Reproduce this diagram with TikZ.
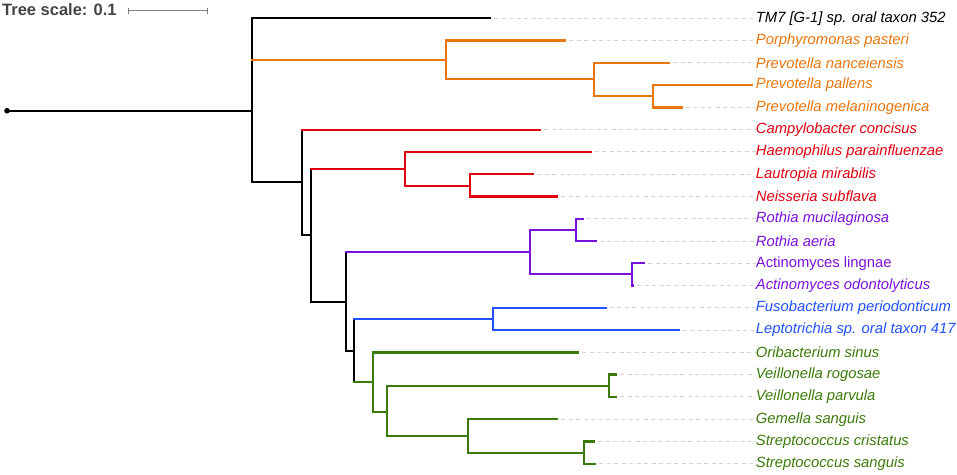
\documentclass[tikz,border=0pt]{standalone}
\usepackage{fontspec}
\setmainfont{Liberation Sans}
\definecolor{cladeorange}{HTML}{E8760C}
\definecolor{cladered}{HTML}{E00010}
\definecolor{cladepurple}{HTML}{7A10DC}
\definecolor{cladeblue}{HTML}{2050FF}
\definecolor{cladegreen}{HTML}{3A7A08}
\definecolor{scalegray}{HTML}{444444}
\tikzset{
	leaf/.style={anchor=west,inner sep=0pt,font=\fontsize{14.8}{16}\selectfont\itshape},
	guide/.style={draw=black!17,line width=1pt,dash pattern=on 4pt off 3.5pt},
	branch/.style={line width=2.3pt,line cap=rect}
}
\begin{document}
\begin{tikzpicture}[x=1pt,y=-1pt]
	\useasboundingbox (0,0) rectangle (957,474);
	% scale
	\node[anchor=west,inner sep=0pt,text=scalegray,font=\fontsize{16.5}{18}\selectfont\bfseries] (scale) at (2,10) {Tree scale: 0.1};
	\coordinate (sa) at (128,10.7);
	\coordinate (sb) at (207,10.7);
	\draw[gray,line width=1pt] (sa) -- (sb);
	\draw[gray,line width=1pt] ([yshift=-3pt]sa) -- ([yshift=3pt]sa);
	\draw[gray,line width=1pt] ([yshift=-3pt]sb) -- ([yshift=3pt]sb);
	% labels
	\node[leaf] (tm7) at (755.7,18.3) {TM7 [G-1] sp. oral taxon 352};
	\node[leaf,text=cladeorange] (porph) at (755.7,40.6) {Porphyromonas pasteri};
	\node[leaf,text=cladeorange] (nance) at (755.7,62.8) {Prevotella nanceiensis};
	\node[leaf,text=cladeorange] (pall) at (755.7,85.1) {Prevotella pallens};
	\node[leaf,text=cladeorange] (melan) at (755.7,107.4) {Prevotella melaninogenica};
	\node[leaf,text=cladered] (campy) at (755.7,129.7) {Campylobacter concisus};
	\node[leaf,text=cladered] (haemo) at (755.7,151.9) {Haemophilus parainfluenzae};
	\node[leaf,text=cladered] (lautr) at (755.7,174.2) {Lautropia mirabilis};
	\node[leaf,text=cladered] (neiss) at (755.7,196.5) {Neisseria subflava};
	\node[leaf,text=cladepurple] (rmuc) at (755.7,218.7) {Rothia mucilaginosa};
	\node[leaf,text=cladepurple] (raer) at (755.7,241.0) {Rothia aeria};
	\node[leaf,text=cladepurple,font=\fontsize{14.8}{16}\selectfont] (aling) at (755.7,263.3) {Actinomyces lingnae};
	\node[leaf,text=cladepurple] (aodo) at (755.7,285.5) {Actinomyces odontolyticus};
	\node[leaf,text=cladeblue] (fuso) at (755.7,307.8) {Fusobacterium periodonticum};
	\node[leaf,text=cladeblue] (lepto) at (755.7,330.1) {Leptotrichia sp. oral taxon 417};
	\node[leaf,text=cladegreen] (orib) at (755.7,352.4) {Oribacterium sinus};
	\node[leaf,text=cladegreen] (vrog) at (755.7,374.6) {Veillonella rogosae};
	\node[leaf,text=cladegreen] (vpar) at (755.7,396.9) {Veillonella parvula};
	\node[leaf,text=cladegreen] (gem) at (755.7,419.2) {Gemella sanguis};
	\node[leaf,text=cladegreen] (scri) at (755.7,441.4) {Streptococcus cristatus};
	\node[leaf,text=cladegreen] (ssan) at (755.7,463.7) {Streptococcus sanguis};
	% tips
	\coordinate (tm7t) at (490,18.3);
	\coordinate (porpht) at (565,40.6);
	\coordinate (nancet) at (669,62.8);
	\coordinate (pallt) at (751.7,85.1);
	\coordinate (melant) at (681.7,107.4);
	\coordinate (campyt) at (540,129.7);
	\coordinate (haemot) at (590.7,151.9);
	\coordinate (lautrt) at (533.3,174.2);
	\coordinate (neisst) at (557.3,196.5);
	\coordinate (rmuct) at (582.7,218.7);
	\coordinate (raert) at (595.7,241.0);
	\coordinate (alingt) at (644,263.3);
	\coordinate (aodot) at (633.3,285.5);
	\coordinate (fusot) at (605.7,307.8);
	\coordinate (leptot) at (679,330.1);
	\coordinate (oribt) at (578.3,352.4);
	\coordinate (vrogt) at (616,374.6);
	\coordinate (vpart) at (616,396.9);
	\coordinate (gemt) at (557.3,419.2);
	\coordinate (scrit) at (594,441.4);
	\coordinate (ssant) at (595,463.7);
	\foreach \t in {tm7,porph,nance,melan,campy,haemo,lautr,neiss,rmuc,raer,aling,aodo,fuso,lepto,orib,vrog,vpar,gem,scri,ssan}
		\draw[guide] ([xshift=4pt]\t t) -- (\t.west);
	% inner nodes
	\coordinate (root) at (7,110.7);
	\coordinate (nA) at (252,110.7);
	\coordinate (nO1) at (445.7,60);
	\coordinate (nO2) at (594.3,79.3);
	\coordinate (nO3) at (653.3,96.3);
	\coordinate (nB) at (301.7,182.3);
	\coordinate (nC) at (311,235);
	\coordinate (nR1) at (405,168.7);
	\coordinate (nR2) at (470,185.7);
	\coordinate (nD) at (346,301.7);
	\coordinate (nP1) at (530,252.3);
	\coordinate (nP2) at (575.7,230);
	\coordinate (nP3) at (631.7,274.3);
	\coordinate (nE) at (354,351);
	\coordinate (nF) at (493.3,319);
	\coordinate (nG1) at (372.7,381.7);
	\coordinate (nG2) at (386.7,411.7);
	\coordinate (nG3) at (609.3,386.3);
	\coordinate (nG4) at (467.7,436);
	\coordinate (nG5) at (584.3,452.7);
	% black backbone
	\begin{scope}[branch]
		\fill (root) circle (2.8pt);
		\draw (root) -- (nA);
		\draw (nA |- tm7t) -- (nA |- nB);
		\draw (nA |- tm7t) -- (tm7t);
		\draw (nA |- nB) -- (nB);
		\draw (nB |- campyt) -- (nB |- nC);
		\draw (nB |- nC) -- (nC);
		\draw (nC |- nR1) -- (nC |- nD);
		\draw (nC |- nD) -- (nD);
		\draw (nD |- nP1) -- (nD |- nE);
		\draw (nD |- nE) -- (nE);
		\draw (nE |- nF) -- (nE |- nG1);
	\end{scope}
	% orange
	\begin{scope}[branch,cladeorange]
		\draw (nA |- nO1) -- (nO1);
		\draw (nO1 |- porpht) -- (nO1 |- nO2);
		\draw (nO1 |- porpht) -- (porpht);
		\draw (nO1 |- nO2) -- (nO2);
		\draw (nO2 |- nancet) -- (nO2 |- nO3);
		\draw (nO2 |- nancet) -- (nancet);
		\draw (nO2 |- nO3) -- (nO3);
		\draw (nO3 |- pallt) -- (nO3 |- melant);
		\draw (nO3 |- pallt) -- (pallt);
		\draw (nO3 |- melant) -- (melant);
	\end{scope}
	% red
	\begin{scope}[branch,cladered]
		\draw (nB |- campyt) -- (campyt);
		\draw (nC |- nR1) -- (nR1);
		\draw (nR1 |- haemot) -- (nR1 |- nR2);
		\draw (nR1 |- haemot) -- (haemot);
		\draw (nR1 |- nR2) -- (nR2);
		\draw (nR2 |- lautrt) -- (nR2 |- neisst);
		\draw (nR2 |- lautrt) -- (lautrt);
		\draw (nR2 |- neisst) -- (neisst);
	\end{scope}
	% purple
	\begin{scope}[branch,cladepurple]
		\draw (nD |- nP1) -- (nP1);
		\draw (nP1 |- nP2) -- (nP1 |- nP3);
		\draw (nP1 |- nP2) -- (nP2);
		\draw (nP1 |- nP3) -- (nP3);
		\draw (nP2 |- rmuct) -- (nP2 |- raert);
		\draw (nP2 |- rmuct) -- (rmuct);
		\draw (nP2 |- raert) -- (raert);
		\draw (nP3 |- alingt) -- (nP3 |- aodot);
		\draw (nP3 |- alingt) -- (alingt);
		\draw (nP3 |- aodot) -- (aodot);
	\end{scope}
	% blue
	\begin{scope}[branch,cladeblue]
		\draw (nE |- nF) -- (nF);
		\draw (nF |- fusot) -- (nF |- leptot);
		\draw (nF |- fusot) -- (fusot);
		\draw (nF |- leptot) -- (leptot);
	\end{scope}
	% green
	\begin{scope}[branch,cladegreen]
		\draw (nE |- nG1) -- (nG1);
		\draw (nG1 |- oribt) -- (nG1 |- nG2);
		\draw (nG1 |- oribt) -- (oribt);
		\draw (nG1 |- nG2) -- (nG2);
		\draw (nG2 |- nG3) -- (nG2 |- nG4);
		\draw (nG2 |- nG3) -- (nG3);
		\draw (nG2 |- nG4) -- (nG4);
		\draw (nG3 |- vrogt) -- (nG3 |- vpart);
		\draw (nG3 |- vrogt) -- (vrogt);
		\draw (nG3 |- vpart) -- (vpart);
		\draw (nG4 |- gemt) -- (nG4 |- nG5);
		\draw (nG4 |- gemt) -- (gemt);
		\draw (nG4 |- nG5) -- (nG5);
		\draw (nG5 |- scrit) -- (nG5 |- ssant);
		\draw (nG5 |- scrit) -- (scrit);
		\draw (nG5 |- ssant) -- (ssant);
	\end{scope}
\end{tikzpicture}
\end{document}
